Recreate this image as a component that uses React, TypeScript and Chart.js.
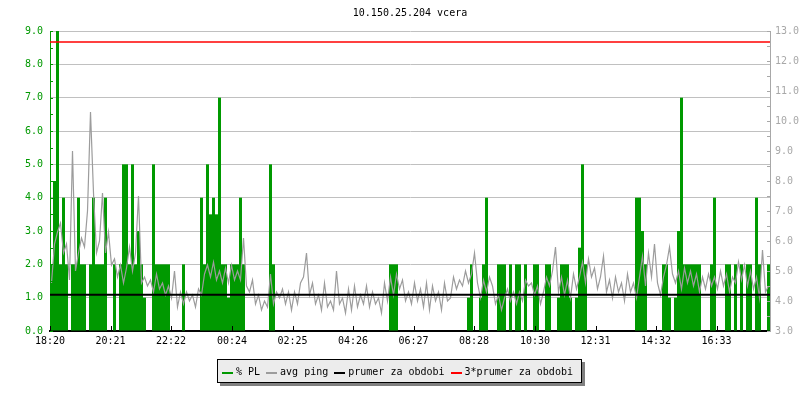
import React, { useEffect, useRef } from "react";
import { Chart, registerables } from "chart.js";

Chart.register(...registerables);

const TITLE = "10.150.25.204 vcera";
const START_TIME = "18:20";
const SAMPLE_MINUTES = 6;
const TIME_TICKS = ["18:20", "20:21", "22:22", "00:24", "02:25", "04:26", "06:27", "08:28", "10:30", "12:31", "14:32", "16:33"];

const PL_MIN = 0;
const PL_MAX = 9;
const PING_MIN = 3;
const PING_MAX = 13;

// % packet loss per 6-minute sample (left axis)
const PL_VALUES = [
  2, 4.5, 9, 2, 4, 2, 0, 2, 2, 4, 2, 2, 0, 2, 4, 2, 2, 2, 4, 0,
  0, 2, 0, 2, 5, 5, 2, 5, 2, 3, 2, 1, 0, 0, 5, 2, 2, 2, 2, 2,
  0, 0, 0, 0, 2, 0, 0, 0, 0, 0, 4, 2, 5, 3.5, 4, 3.5, 7, 2, 2, 1,
  2, 2, 2, 4, 2, 0, 0, 0, 0, 0, 0, 0, 0, 5, 2, 0, 0, 0, 0, 0,
  0, 0, 0, 0, 0, 0, 0, 0, 0, 0, 0, 0, 0, 0, 0, 0, 0, 0, 0, 0,
  0, 0, 0, 0, 0, 0, 0, 0, 0, 0, 0, 0, 0, 2, 2, 2, 0, 0, 0, 0,
  0, 0, 0, 0, 0, 0, 0, 0, 0, 0, 0, 0, 0, 0, 0, 0, 0, 0, 0, 1,
  2, 0, 0, 1, 2, 4, 0, 0, 0, 2, 2, 2, 0, 2, 0, 2, 2, 0, 2, 0,
  0, 2, 2, 0, 0, 2, 2, 0, 0, 1, 2, 2, 2, 1, 0, 1, 2.5, 5, 2, 0,
  0, 0, 0, 0, 0, 0, 0, 0, 0, 0, 0, 0, 0, 0, 0, 4, 4, 3, 2, 0,
  0, 0, 0, 0, 2, 2, 1, 0, 1, 3, 7, 2, 2, 2, 2, 2, 2, 0, 0, 0,
  2, 4, 0, 0, 0, 2, 2, 0, 2, 0, 2, 0, 2, 2, 0, 4, 2, 0, 0, 2,
];

// average ping in ms per 6-minute sample (right axis)
const PING_VALUES = [
  4.6, 5.9, 6.3, 6.6, 5.6, 5.9, 4.7, 9.0, 5.0, 5.6, 6.1, 5.8, 7.0, 10.3, 7.6, 5.6, 6.0, 7.6, 5.6, 6.3,
  5.2, 5.4, 4.8, 5.2, 4.6, 5.1, 5.8, 5.0, 5.6, 7.5, 4.6, 4.8, 4.5, 4.7, 4.3, 4.9, 4.4, 4.6, 4.2, 4.5,
  4.1, 5.0, 3.8, 4.3, 3.9, 4.3, 4.0, 4.2, 3.8, 4.4, 4.2, 4.9, 5.2, 4.8, 5.3, 4.7, 5.0, 4.6, 5.1, 4.6,
  5.2, 4.7, 5.0, 4.7, 6.1, 4.5, 4.3, 4.7, 3.9, 4.2, 3.7, 4.0, 3.8, 4.9, 3.9, 4.3, 4.1, 4.4, 3.9, 4.3,
  3.7, 4.3, 3.9, 4.6, 4.8, 5.6, 4.2, 4.6, 3.9, 4.2, 3.7, 4.6, 3.8, 4.0, 3.7, 5.0, 3.9, 4.1, 3.6, 4.4,
  3.7, 4.5, 3.8, 4.2, 3.9, 4.5, 3.8, 4.3, 3.9, 4.1, 3.6, 4.6, 4.0, 4.8, 4.2, 4.9, 4.4, 4.7, 4.0, 4.3,
  3.9, 4.6, 4.0, 4.4, 3.8, 4.6, 3.7, 4.5, 4.0, 4.3, 3.7, 4.6, 4.0, 4.1, 4.8, 4.4, 4.7, 4.5, 5.0, 4.6,
  4.9, 5.6, 4.6, 4.1, 4.7, 4.3, 4.8, 4.5, 3.9, 4.2, 3.7, 4.1, 4.4, 4.0, 4.3, 3.9, 4.3, 4.0, 4.7, 4.5,
  4.6, 4.2, 4.5, 3.9, 4.3, 4.8, 4.5, 5.0, 5.8, 4.3, 4.8, 4.2, 4.7, 4.1, 4.9, 4.4, 4.8, 5.3, 4.6, 5.4,
  4.8, 5.1, 4.4, 4.8, 5.5, 4.3, 4.7, 4.1, 4.8, 4.3, 4.6, 4.0, 4.9, 4.3, 4.6, 4.1, 4.8, 5.5, 4.5, 5.6,
  4.8, 5.9, 4.6, 4.2, 4.8, 5.2, 5.8, 4.9, 4.6, 5.0, 4.4, 5.1, 4.6, 5.0, 4.5, 4.9, 4.3, 4.8, 4.4, 4.9,
  4.5, 4.8, 4.4, 5.0, 4.5, 4.9, 4.3, 4.8, 4.6, 5.3, 4.7, 5.2, 4.5, 5.0, 4.4, 4.8, 4.1, 5.7, 4.3, 4.5,
];

const PING_AVERAGE = 4.21;
const PING_AVERAGE_X3 = 12.63;

const SERIES_LABELS = ["% PL", "avg ping", "prumer za obdobi", "3*prumer za obdobi"];

const GREEN = "#009900";
const GRAY = "#9c9c9c";
const AXIS_GRAY = "#a8a8a8";
const GRID = "#c0c0c0";
const FONT_FAMILY = '"DejaVu Sans Mono", monospace';

function minutesOf(t: string): number {
  const [h, m] = t.split(":").map(Number);
  return h * 60 + m;
}

function tickPosition(t: string): number {
  const diff = (minutesOf(t) - minutesOf(START_TIME) + 1440) % 1440;
  return diff / SAMPLE_MINUTES - 0.5;
}

const decorPlugin = {
  id: "rrdDecor",
  afterDraw(chart: any) {
    const { ctx, chartArea: a, scales } = chart;
    const y = scales.y;
    const y2 = scales.y2;
    const x = scales.x;
    ctx.save();
    ctx.lineWidth = 1;

    ctx.strokeStyle = GREEN;
    for (let v = PL_MIN; v <= PL_MAX + 1e-9; v += 0.5) {
      const py = Math.round(y.getPixelForValue(v)) + 0.5;
      ctx.beginPath();
      ctx.moveTo(a.left, py);
      ctx.lineTo(a.left + 3, py);
      ctx.stroke();
    }
    ctx.strokeStyle = AXIS_GRAY;
    for (let v = PING_MIN; v <= PING_MAX + 1e-9; v += 0.5) {
      const py = Math.round(y2.getPixelForValue(v)) + 0.5;
      ctx.beginPath();
      ctx.moveTo(a.right - 3, py);
      ctx.lineTo(a.right, py);
      ctx.stroke();
    }
    ctx.strokeStyle = "#000";
    TIME_TICKS.forEach((t) => {
      const px = Math.round(x.getPixelForValue(tickPosition(t))) + 0.5;
      ctx.beginPath();
      ctx.moveTo(px, a.bottom);
      ctx.lineTo(px, a.bottom - 5);
      ctx.stroke();
    });

    ctx.font = `10px ${FONT_FAMILY}`;
    ctx.fillStyle = "#000";
    ctx.textAlign = "center";
    ctx.textBaseline = "middle";
    ctx.fillText(TITLE, (a.left + a.right) / 2, 13);

    const items = chart.data.datasets.map((d: any) => ({
      label: d.label as string,
      color: (d.type === "line" ? d.borderColor : d.backgroundColor) as string,
    }));
    const sw = 11;
    const swGap = 3;
    const itemGap = 6;
    const padL = 5;
    const padR = 9;
    let content = 0;
    items.forEach((it: any, i: number) => {
      content += sw + swGap + ctx.measureText(it.label).width + (i < items.length - 1 ? itemGap : 0);
    });
    const boxW = Math.round(padL + content + padR);
    const boxH = 24;
    const boxX = Math.round(399 - boxW / 2);
    const boxY = 359;
    ctx.fillStyle = "#808080";
    ctx.fillRect(boxX + 3, boxY + 3, boxW, boxH);
    ctx.fillStyle = "#ececec";
    ctx.fillRect(boxX, boxY, boxW, boxH);
    ctx.strokeStyle = "#000";
    ctx.strokeRect(boxX + 0.5, boxY + 0.5, boxW - 1, boxH - 1);
    let cx = boxX + padL;
    ctx.textAlign = "left";
    ctx.textBaseline = "alphabetic";
    items.forEach((it: any) => {
      ctx.fillStyle = it.color;
      ctx.fillRect(Math.round(cx), 372, sw, 2);
      cx += sw + swGap;
      ctx.fillStyle = "#000";
      ctx.fillText(it.label, cx, 375);
      cx += ctx.measureText(it.label).width + itemGap;
    });
    ctx.restore();
  },
};

export default function App() {
  const canvasRef = useRef<HTMLCanvasElement | null>(null);

  useEffect(() => {
    if (!canvasRef.current) return;
    const n = PL_VALUES.length;
    const chart = new Chart(canvasRef.current, {
      type: "bar",
      data: {
        datasets: [
          {
            type: "bar",
            label: SERIES_LABELS[0],
            data: PL_VALUES.map((v, i) => ({ x: i, y: v })),
            backgroundColor: GREEN,
            borderWidth: 0,
            barPercentage: 1,
            categoryPercentage: 1,
            inflateAmount: 0,
            yAxisID: "y",
            order: 4,
          },
          {
            type: "line",
            label: SERIES_LABELS[1],
            data: PING_VALUES.map((v, i) => ({ x: i, y: v })),
            borderColor: GRAY,
            borderWidth: 1.2,
            pointRadius: 0,
            tension: 0,
            yAxisID: "y2",
            order: 3,
          },
          {
            type: "line",
            label: SERIES_LABELS[2],
            data: [
              { x: -0.5, y: PING_AVERAGE },
              { x: n - 0.5, y: PING_AVERAGE },
            ],
            borderColor: "#000000",
            borderWidth: 2,
            pointRadius: 0,
            yAxisID: "y2",
            order: 2,
          },
          {
            type: "line",
            label: SERIES_LABELS[3],
            data: [
              { x: -0.5, y: PING_AVERAGE_X3 },
              { x: n - 0.5, y: PING_AVERAGE_X3 },
            ],
            borderColor: "#ff0000",
            borderWidth: 1.5,
            pointRadius: 0,
            yAxisID: "y2",
            order: 1,
          },
        ],
      } as any,
      options: {
        animation: false,
        responsive: false,
        events: [],
        layout: { padding: { top: 31, bottom: 49, left: 0, right: 0 } },
        plugins: {
          legend: { display: false },
          title: { display: false },
          tooltip: { enabled: false },
        },
        scales: {
          x: {
            type: "linear",
            min: -0.5,
            max: n - 0.5,
            offset: false,
            grid: { drawOnChartArea: false, drawTicks: false },
            border: { display: true, color: "#000", width: 2 },
            afterBuildTicks: (scale: any) => {
              scale.ticks = TIME_TICKS.map((t) => ({ value: tickPosition(t) }));
            },
            afterFit: (scale: any) => {
              scale.height = 20;
            },
            ticks: {
              autoSkip: false,
              maxRotation: 0,
              minRotation: 0,
              padding: 4,
              color: "#000",
              font: { family: FONT_FAMILY, size: 10 },
              callback: (_v: any, i: number) => TIME_TICKS[i],
            },
          },
          y: {
            type: "linear",
            position: "left",
            min: PL_MIN,
            max: PL_MAX,
            grid: { color: GRID, drawTicks: false, lineWidth: 1 },
            border: { display: true, color: GREEN, width: 1 },
            afterFit: (scale: any) => {
              scale.width = 50;
            },
            ticks: {
              stepSize: 1,
              padding: 7,
              color: GREEN,
              font: { family: FONT_FAMILY, size: 10 },
              callback: (v: any) => Number(v).toFixed(1),
            },
          },
          y2: {
            type: "linear",
            position: "right",
            min: PING_MIN,
            max: PING_MAX,
            grid: { drawOnChartArea: false, drawTicks: false },
            border: { display: true, color: AXIS_GRAY, width: 1 },
            afterFit: (scale: any) => {
              scale.width = 30;
            },
            ticks: {
              stepSize: 1,
              padding: 5,
              color: AXIS_GRAY,
              font: { family: FONT_FAMILY, size: 10 },
              callback: (v: any) => Number(v).toFixed(1),
            },
          },
        },
      } as any,
      plugins: [decorPlugin],
    });
    return () => chart.destroy();
  }, []);

  return (
    <div style={{ position: "fixed", left: 0, top: 0, width: 800, height: 400, background: "#fff" }}>
      <canvas ref={canvasRef} width={800} height={400} style={{ display: "block" }} />
    </div>
  );
}
